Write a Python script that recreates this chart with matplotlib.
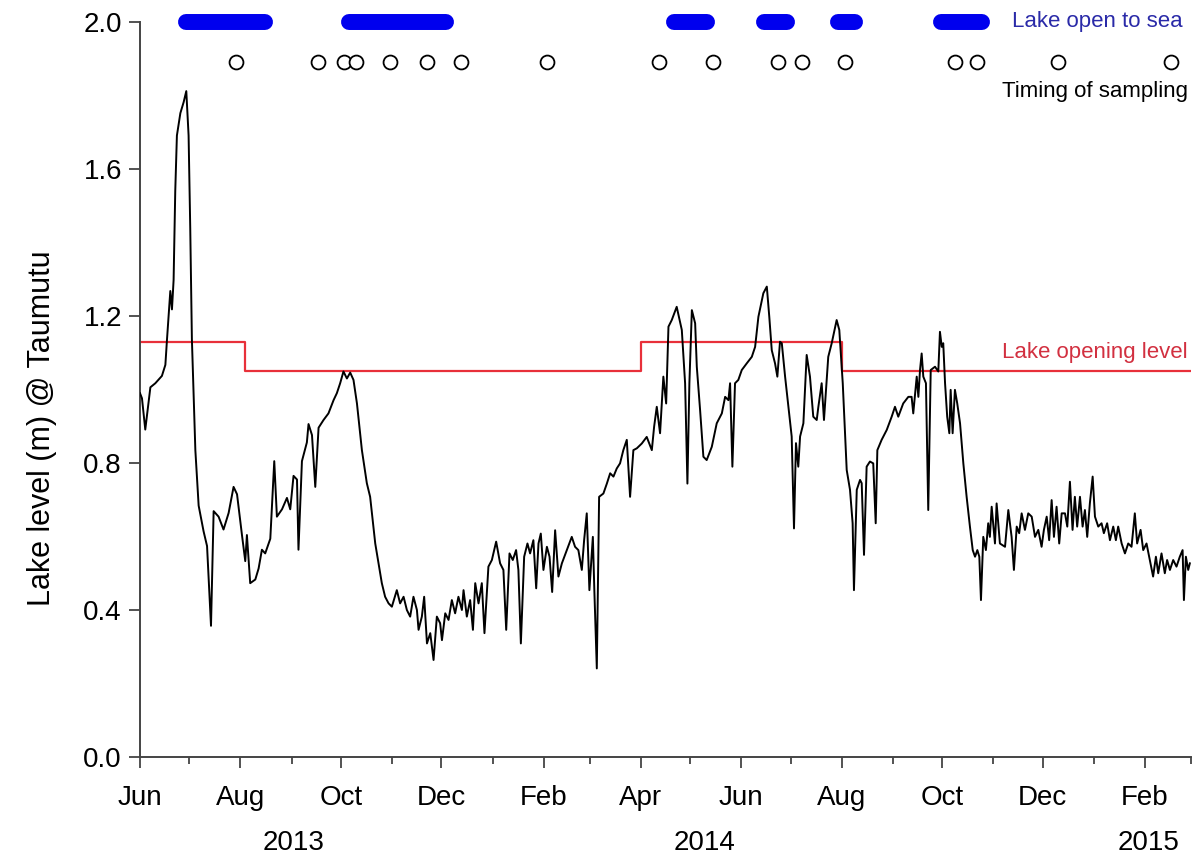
import matplotlib
matplotlib.use('Agg')
import matplotlib.pyplot as plt
import matplotlib.dates as mdates
import matplotlib.transforms as mtransforms
import numpy as np

plt.rcParams['font.family'] = ['Liberation Sans', 'DejaVu Sans']

# Lake level series: days since 2013-06-01 and level (m)
start_date = '2013-06-01'
level_days = [
    0, 1.2, 3.2, 6.3, 9.3, 13.3, 15.4, 16.4, 18.4, 19.4, 20.4, 21.4, 22.4, 24.5, 26.5, 28.1,
    29.5, 30.5, 31.5, 33.6, 35.6, 38.6, 40.7, 43.1, 44.7, 47.7, 50.7, 53.8, 56.8, 58.9, 61.9,
    63.9, 64.9, 66.9, 70, 72, 74, 76, 79.1, 81.5, 83.1, 86.2, 89.2, 91.2, 93.2, 95.3, 96.2,
    98.3, 101.3, 102.3, 104.4, 106.4, 108.4,
    111.4, 114.4, 117.5, 119.5, 121.5, 123.5, 125.6, 127.6, 129.6, 131.7, 134.7, 137.7, 139.7,
    142.8, 144.8, 146.8, 148.8, 150.9, 152.9, 155.9, 157.9, 160, 162, 164, 166, 168.1, 169.1,
    171.1, 172.5, 174.2, 176.2, 178.2, 180.2, 182.2, 183.3, 185.3, 187.3, 189.3, 191.3, 193.3,
    195.4, 196.4, 198.4, 200.4, 202.1, 203.5, 205.5, 207.5, 209.1, 211.5, 213.6, 216.2,
    218.6, 220.6, 222.3, 224.3, 226.3, 228.3, 229.7, 231.2, 233.2, 235.2, 236.8, 238.8, 240.5,
    241.9, 243.3, 244.9, 247, 248.6, 250.2, 252, 254, 256.1, 259.1, 262.1, 264.1, 266.1, 268.2,
    269.6, 271.2, 272.8, 274.9, 275.8, 277.3, 278.7, 281.3, 283.4, 285.4, 287.4, 289.4, 291.4,
    293.4, 295.5, 297.5, 299.5, 301.6, 304.6, 307.6, 310.7, 312.1, 313.7, 315.7, 317.7, 319.4,
    320.8, 322.8, 325.8, 328.9, 330.9, 332.3, 333.5, 335, 337,
    338, 340, 342, 344, 347.1, 350.1, 353.2, 355.2, 357.2, 358.2, 359.6, 361.2, 363.2, 365.3,
    368.3, 371.4, 373.4, 375.4, 378.4, 380.5, 382, 383.5, 385.5, 386.9, 388.5, 389.6, 391.6,
    393.6, 395.6, 397, 398.2, 399.6, 400.7, 402.7, 404.7, 406.7, 408.7, 410.8, 411.8, 413.8,
    415.2, 417.8, 419.9, 422.9, 424.5, 426.6, 428, 429, 431, 432.6, 433.4, 435.1,
    437.1, 438.1, 439.5, 441.1, 443.1, 445.1, 446.6, 447.6, 450.2, 453.3, 456.3, 458.3, 460.3,
    463.3, 466.4, 468.4, 469.4, 471.5, 472.5, 473.5, 474.5, 475.5, 477.1, 478.5, 480, 482.6,
    484.6, 485.6, 486.7, 487.6, 488.7, 490, 491.3, 492.1, 493.3, 494.7, 496.1, 497.8, 499.8,
    501.8, 503.8, 505.5, 506.9, 508.3, 509.5, 510.5, 511.9, 513.5, 514.9, 515.9, 517, 519, 520,
    522, 525.1, 527.1, 529.1, 530.5, 532.2, 533.7, 535.2, 537.2, 539.2,
    541.3, 543.3, 545.3, 547.3, 548.7, 550.4, 551.9, 553.4, 554.8, 556.4, 558, 559.5, 561.5,
    562.9, 564.5, 566.1, 567.5, 568.9, 570.6, 572.2, 573.6, 575, 576.6, 578.3, 579.7, 581.7,
    583.7, 585.1, 587.1, 588.8, 590.8, 592.4, 593.8, 595.9, 597.9, 599.9, 601.9, 603.9, 605.3,
    607.4, 609, 611, 613, 615, 616.7, 618.1, 620.1, 622.1, 623.5, 625.2, 627.2, 629.2, 631.2,
    632.9, 633.7, 634.9, 636.3, 637.3,
]
level_m = [
    0.99, 0.976, 0.891, 1.006, 1.017, 1.037, 1.067, 1.137, 1.268, 1.218, 1.298, 1.540, 1.691, 1.752, 1.782, 1.812,
    1.691, 1.439, 1.137, 0.835, 0.684, 0.614, 0.574, 0.357, 0.669, 0.654, 0.619, 0.664, 0.735, 0.715, 0.604,
    0.533, 0.604, 0.473, 0.483, 0.513, 0.564, 0.554, 0.594, 0.805, 0.654, 0.674, 0.705, 0.674, 0.765, 0.755, 0.564,
    0.805, 0.856, 0.906, 0.876, 0.735, 0.896,
    0.917, 0.935, 0.971, 0.990, 1.017, 1.049, 1.030, 1.046, 1.026, 0.962, 0.835, 0.745, 0.708,
    0.581, 0.527, 0.473, 0.436, 0.418, 0.409, 0.454, 0.418, 0.436, 0.400, 0.382, 0.436, 0.400, 0.346,
    0.382, 0.436, 0.309, 0.337, 0.264, 0.382, 0.364, 0.318, 0.391, 0.373, 0.427, 0.391, 0.436,
    0.400, 0.454, 0.382, 0.427, 0.346, 0.473, 0.418, 0.473, 0.337, 0.518, 0.536, 0.586,
    0.527, 0.509, 0.346, 0.554, 0.536, 0.563, 0.509, 0.309, 0.545, 0.581, 0.554, 0.590, 0.459,
    0.581, 0.608, 0.509, 0.572, 0.545, 0.449, 0.617, 0.491, 0.527, 0.563, 0.599, 0.572, 0.563, 0.509,
    0.590, 0.663, 0.454, 0.599, 0.454, 0.241, 0.708, 0.717, 0.744, 0.772, 0.763, 0.785, 0.799,
    0.835, 0.863, 0.708, 0.835, 0.840, 0.853, 0.871, 0.835, 0.899, 0.953, 0.881, 1.035, 0.962,
    1.171, 1.189, 1.225, 1.162, 1.017, 0.744, 1.017, 1.216, 1.180,
    1.062, 0.944, 0.817, 0.808, 0.844, 0.908, 0.935, 0.980, 0.971, 1.017, 0.790, 1.017, 1.026, 1.053,
    1.071, 1.089, 1.116, 1.198, 1.262, 1.280, 1.198, 1.107, 1.071, 1.035, 1.130, 1.126, 1.035,
    0.953, 0.872, 0.622, 0.854, 0.790, 0.872, 0.908, 1.094, 1.035, 0.926, 0.917, 0.953, 1.017,
    0.917, 1.089, 1.126, 1.189, 1.162, 1.017, 0.881, 0.781, 0.727, 0.636, 0.454, 0.727,
    0.754, 0.745, 0.550, 0.790, 0.804, 0.799, 0.636, 0.835, 0.863, 0.890, 0.926, 0.953, 0.926,
    0.962, 0.980, 0.980, 0.935, 1.035, 0.980, 1.053, 1.098, 1.035, 1.017, 0.672, 1.053, 1.062,
    1.049, 1.157, 1.116, 1.126, 1.017, 0.926, 0.881, 0.999, 0.881, 0.999, 0.962, 0.908, 0.799,
    0.708, 0.627, 0.563, 0.545, 0.563, 0.545, 0.427, 0.599, 0.563, 0.636, 0.599, 0.681, 0.581, 0.690,
    0.581, 0.572, 0.672, 0.599, 0.509, 0.627, 0.609, 0.663, 0.618, 0.663,
    0.654, 0.599, 0.618, 0.572, 0.618, 0.654, 0.590, 0.699, 0.599, 0.681, 0.581, 0.663, 0.663,
    0.627, 0.749, 0.618, 0.708, 0.627, 0.708, 0.627, 0.672, 0.599, 0.690, 0.763, 0.654, 0.627,
    0.636, 0.609, 0.636, 0.590, 0.627, 0.590, 0.627, 0.581, 0.554, 0.581, 0.572, 0.663, 0.581,
    0.618, 0.563, 0.581, 0.536, 0.491, 0.545, 0.500, 0.554, 0.500, 0.536, 0.509, 0.536, 0.518, 0.545,
    0.563, 0.427, 0.545, 0.509, 0.527,
]

# Lake opening level (step changes)
opening_dates = ['2013-06-01', '2013-08-04', '2014-04-01', '2014-08-01', '2015-03-01']
opening_levels = [1.13, 1.05, 1.13, 1.05, 1.05]

# Periods when the lake was open to sea
open_start = ['2013-06-29', '2013-10-06', '2014-04-21', '2014-06-15', '2014-07-30', '2014-09-30']
open_end = ['2013-08-16', '2013-12-04', '2014-05-11', '2014-06-29', '2014-08-09', '2014-10-25']

# Sampling dates
sample_dates = ['2013-07-29', '2013-09-17', '2013-10-03', '2013-10-10', '2013-10-31',
                '2013-11-22', '2013-12-13', '2014-02-03', '2014-04-12', '2014-05-15',
                '2014-06-23', '2014-07-08', '2014-08-03', '2014-10-09', '2014-10-22',
                '2014-12-10', '2015-02-17']

years = ['2013', '2014', '2015']
year_pos = ['2013-09-02', '2014-05-10', '2015-02-03']


def dnum(d):
    return mdates.date2num(np.datetime64(d))


fig = plt.figure(figsize=(12, 8.56), dpi=100)
ax = fig.add_axes([140 / 1200, 1 - 757 / 856, 1051 / 1200, 735 / 856])

x0 = dnum(start_date)
ax.plot(x0 + np.array(level_days), level_m, color='black', lw=1.4, zorder=3)

ax.plot([dnum(d) for d in opening_dates], opening_levels, drawstyle='steps-post',
        color='#e8303a', lw=1.6, zorder=2)

for s, e in zip(open_start, open_end):
    ax.plot([dnum(s), dnum(e)], [2.0, 2.0], color='#0000ee', lw=11.5,
            solid_capstyle='round', clip_on=False, zorder=4)

ax.plot([dnum(d) for d in sample_dates], [1.89] * len(sample_dates), 'o', ms=10,
        mfc='white', mec='black', mew=1.3, clip_on=False, zorder=4)

ax.set_xlim(dnum('2013-06-01'), dnum('2015-03-01'))
ax.set_ylim(0, 2.0)
ax.set_yticks(np.arange(0, 2.01, 0.4))
ax.yaxis.set_major_formatter(plt.FormatStrFormatter('%.1f'))
ax.xaxis.set_major_locator(mdates.MonthLocator(bymonth=[2, 4, 6, 8, 10, 12]))
ax.xaxis.set_minor_locator(mdates.MonthLocator())
ax.xaxis.set_major_formatter(mdates.DateFormatter('%b'))

for side in ['top', 'right']:
    ax.spines[side].set_visible(False)
for side in ['left', 'bottom']:
    ax.spines[side].set_color('#444444')
    ax.spines[side].set_linewidth(1.4)

ax.tick_params(axis='both', which='major', direction='out', length=8, width=1.3,
               color='#444444', labelsize=20)
ax.tick_params(axis='x', which='minor', direction='out', length=5, width=1.3, color='#444444')
ax.tick_params(axis='x', which='major', pad=12)
ax.tick_params(axis='y', which='major', pad=5)

ax.set_ylabel('Lake level (m) @ Taumutu', fontsize=22)
ax.yaxis.set_label_coords(-0.079, 0.448)

xt = ax.get_xaxis_transform()
for yr, pos in zip(years, year_pos):
    ax.text(dnum(pos), -0.117, yr, transform=xt, ha='center', va='center', fontsize=20)

right_tr = mtransforms.blended_transform_factory(ax.transAxes, ax.transData)
ax.text(0.9925, 2.0, 'Lake open to sea', transform=right_tr, ha='right', va='center',
        fontsize=16, color='#2a2aa8')
ax.text(0.997, 1.81, 'Timing of sampling', transform=right_tr, ha='right', va='center',
        fontsize=16, color='black')
ax.text(0.997, 1.10, 'Lake opening level', transform=right_tr, ha='right', va='center',
        fontsize=16, color='#d23040')

fig.savefig('out.png', dpi=100)
